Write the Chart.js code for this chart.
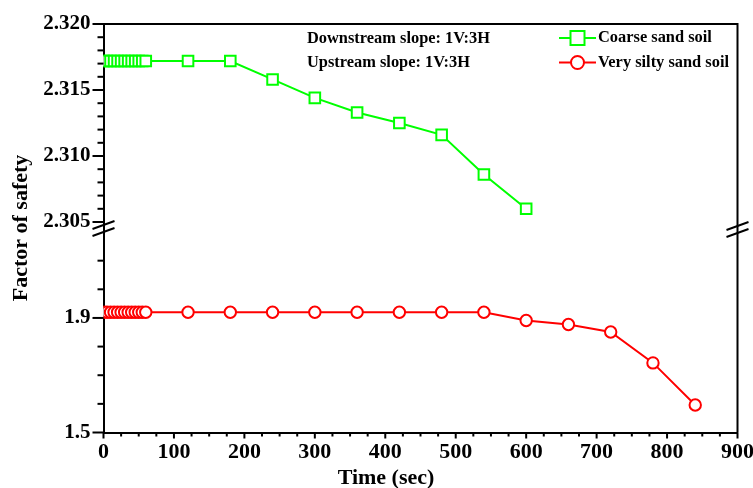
<!DOCTYPE html>
<html>
<head>
<meta charset="utf-8">
<script src="https://cdn.jsdelivr.net/npm/chart.js@4"></script>
<style>
  html, body { margin: 0; padding: 0; background: #fff; }
  #wrap { width: 753px; height: 488px; }
</style>
</head>
<body>
<div id="wrap"><canvas id="chart" width="753" height="488"></canvas></div>
<script>
// ---- data ----
const coarseTime = [0, 5, 10, 15, 20, 25, 30, 35, 40, 45, 50, 55, 60,
                    120, 180, 240, 300, 360, 420, 480, 540, 600];
const coarseFS   = [2.3172, 2.3172, 2.3172, 2.3172, 2.3172, 2.3172, 2.3172, 2.3172, 2.3172, 2.3172, 2.3172, 2.3172, 2.3172,
                    2.3172, 2.3172, 2.3158, 2.3144, 2.3133, 2.3125, 2.3116, 2.3086, 2.3060];

const siltyTime = [0, 5, 10, 15, 20, 25, 30, 35, 40, 45, 50, 55, 60,
                   120, 180, 240, 300, 360, 420, 480, 540, 600, 660, 720, 780, 840];
const siltyFS   = [1.920, 1.920, 1.920, 1.920, 1.920, 1.920, 1.920, 1.920, 1.920, 1.920, 1.920, 1.920, 1.920,
                   1.920, 1.920, 1.920, 1.920, 1.920, 1.920, 1.920, 1.920, 1.891, 1.877, 1.851, 1.743, 1.596];

// labelled ticks
const xLabels   = [0, 100, 200, 300, 400, 500, 600, 700, 800, 900];
const topLabels = [2.305, 2.310, 2.315, 2.320];
const botLabels = [1.5, 1.9];

const seriesNames = ['Coarse sand soil', 'Very silty sand soil'];
const notes = ['Downstream slope: 1V:3H', 'Upstream slope: 1V:3H'];

const FONT = "'Liberation Serif', 'Times New Roman', serif";
const GREEN = '#00ff00';
const RED = '#ff0000';

function rangeTicks(lo, hi, step){
    let out = [];
    let n = Math.round((hi - lo) / step);
    for(let i = 0; i <= n; i++) out.push(+(lo + i * step).toFixed(4));
    return out;
}
function isMajor(v, list){
    return list.some(m => Math.abs(m - v) < 1e-7);
}

// tick marks (long for labelled, short for minor), frame, breaks, texts
const decorPlugin = {
    id: 'decor',
    afterDraw(chart){
        const ctx = chart.ctx;
        const a = chart.chartArea;
        const sx = chart.scales.x, st = chart.scales.yTop, sb = chart.scales.yBot;

        ctx.save();
        ctx.strokeStyle = '#000';
        ctx.lineWidth = 2;

        function ticks(scale, labels, majorLen, minorLen){
            for(let t of scale.ticks){
                let p = scale.getPixelForValue(t.value);
                let len = isMajor(t.value, labels) ? majorLen : minorLen;
                ctx.beginPath();
                if(scale.isHorizontal()){
                    ctx.moveTo(p, a.bottom); ctx.lineTo(p, a.bottom + len);
                } else {
                    ctx.moveTo(a.left, p); ctx.lineTo(a.left - len, p);
                }
                ctx.stroke();
            }
        }
        ticks(sx, xLabels, 6, 4);
        ticks(st, topLabels, 11, 6);
        ticks(sb, botLabels, 11, 6);

        // top and right frame
        ctx.beginPath();
        ctx.moveTo(a.left, a.top); ctx.lineTo(a.right, a.top); ctx.lineTo(a.right, a.bottom);
        ctx.stroke();

        // axis break marks
        let b = st.bottom;
        function slash(x, y){
            ctx.beginPath();
            ctx.moveTo(x - 11, y + 4); ctx.lineTo(x + 11, y - 4);
            ctx.stroke();
        }
        slash(a.left, b + 3); slash(a.left, b + 10);
        slash(a.right, b + 4); slash(a.right, b + 11);

        // legend
        ctx.lineWidth = 2;
        ctx.strokeStyle = GREEN;
        ctx.beginPath(); ctx.moveTo(559, 38); ctx.lineTo(596, 38); ctx.stroke();
        ctx.fillStyle = '#fff';
        ctx.fillRect(570.5, 31, 14, 14);
        ctx.strokeRect(570.5, 31, 14, 14);

        ctx.strokeStyle = RED;
        ctx.beginPath(); ctx.moveTo(559, 62.5); ctx.lineTo(596, 62.5); ctx.stroke();
        ctx.beginPath(); ctx.arc(577.5, 62.5, 6.5, 0, Math.PI * 2);
        ctx.fill(); ctx.stroke();

        ctx.fillStyle = '#000';
        ctx.font = 'bold 16.4px ' + FONT;
        ctx.textAlign = 'left';
        ctx.textBaseline = 'middle';
        ctx.fillText(seriesNames[0], 598, 38);
        ctx.fillText(seriesNames[1], 598, 62.5);
        ctx.fillText(notes[0], 307, 39);
        ctx.fillText(notes[1], 307, 63);

        // axis titles
        ctx.textAlign = 'center';
        ctx.font = 'bold 22px ' + FONT;
        ctx.fillText('Time (sec)', 386, 478);
        ctx.translate(21, 228);
        ctx.rotate(-Math.PI / 2);
        ctx.fillText('Factor of safety', 0, 0);
        ctx.restore();
    }
};

function yAxis(min, max, step, tickTop, labels, digits, weight, stackWeight){
    return {
        type: 'linear',
        position: 'left',
        stack: 'fs',
        stackWeight: stackWeight,
        weight: weight,
        min: min,
        max: max,
        afterBuildTicks: s => { s.ticks = rangeTicks(min, tickTop, step).map(v => ({value: v})); },
        afterFit: s => { s.width = 103.5; s.paddingTop = 0; s.paddingBottom = 0; },
        ticks: {
            autoSkip: false,
            padding: 2,
            color: '#000',
            font: {family: FONT, size: 21, weight: 'bold'},
            callback: v => isMajor(v, labels) ? v.toFixed(digits) : ''
        },
        grid: {drawOnChartArea: false, drawTicks: true, tickLength: 11, tickColor: 'rgba(0,0,0,0)'},
        border: {color: '#000', width: 2}
    };
}

const ctx = document.getElementById('chart').getContext('2d');
new Chart(ctx, {
    type: 'line',
    data: {
        datasets: [{
            label: seriesNames[0],
            data: coarseTime.map((t, i) => ({x: t, y: coarseFS[i]})),
            yAxisID: 'yTop',
            borderColor: GREEN,
            borderWidth: 2,
            pointStyle: 'rect',
            pointRadius: 7.5,
            pointBorderWidth: 2,
            pointBorderColor: GREEN,
            pointBackgroundColor: '#fff',
            clip: {left: 0, top: false, right: false, bottom: false}
        }, {
            label: seriesNames[1],
            data: siltyTime.map((t, i) => ({x: t, y: siltyFS[i]})),
            yAxisID: 'yBot',
            borderColor: RED,
            borderWidth: 2,
            pointStyle: 'circle',
            pointRadius: 5.7,
            pointBorderWidth: 2,
            pointBorderColor: RED,
            pointBackgroundColor: '#fff',
            clip: {left: 0, top: false, right: false, bottom: false}
        }]
    },
    options: {
        responsive: false,
        animation: false,
        layout: {padding: {top: 24, right: 15.5, left: 0, bottom: 0}},
        plugins: {legend: {display: false}, tooltip: {enabled: false}},
        scales: {
            x: {
                type: 'linear',
                position: 'bottom',
                min: 0,
                max: 900,
                afterBuildTicks: s => { s.ticks = rangeTicks(0, 900, 25).map(v => ({value: v})); },
                afterFit: s => { s.height = 55.5; s.paddingLeft = 0; s.paddingRight = 0; },
                ticks: {
                    autoSkip: false,
                    maxRotation: 0,
                    padding: 1,
                    color: '#000',
                    font: {family: FONT, size: 22, weight: 'bold'},
                    callback: v => isMajor(v, xLabels) ? v : ''
                },
                grid: {drawOnChartArea: false, drawTicks: true, tickLength: 6, tickColor: 'rgba(0,0,0,0)'},
                border: {color: '#000', width: 2}
            },
            yTop: yAxis(2.305, 2.320, 0.001, 2.320, topLabels, 3, 2, 198),
            yBot: yAxis(1.5, 2.235, 0.1, 2.1, botLabels, 1, 1, 210.5)
        }
    },
    plugins: [decorPlugin]
});
</script>
</body>
</html>
